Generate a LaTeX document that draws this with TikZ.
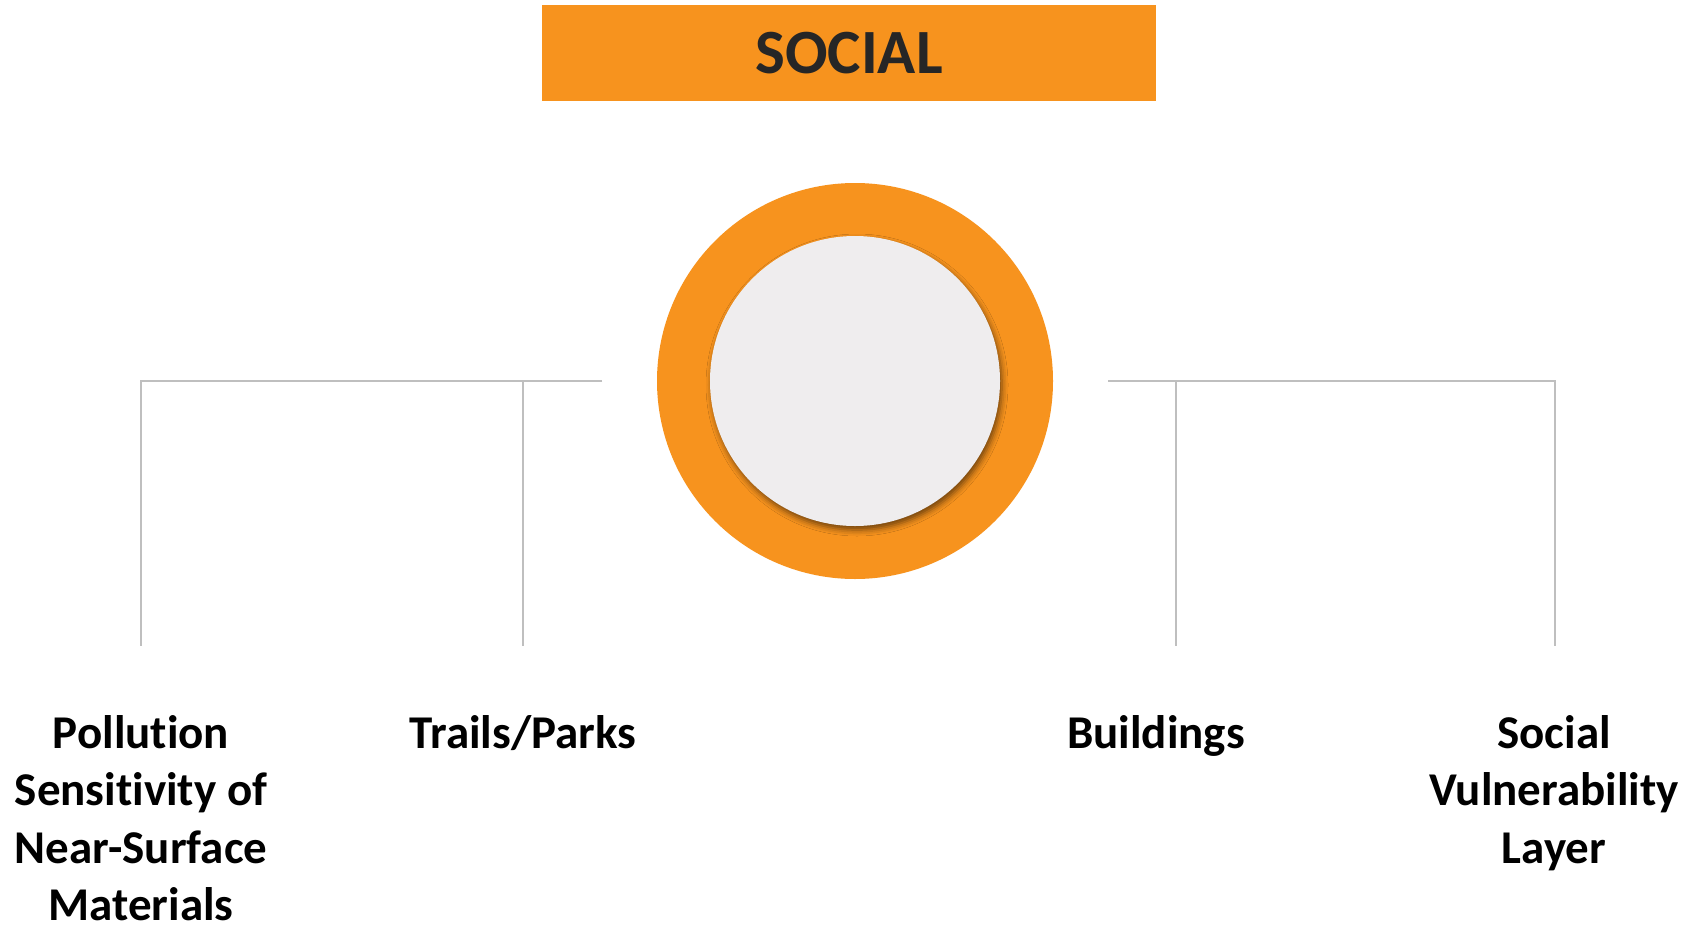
\documentclass[tikz,border=0pt]{standalone}
\usepackage{fontspec}
\setmainfont{Carlito}[Ligatures={NoCommon,NoContextual}]
\usetikzlibrary{shadows.blur}
\definecolor{socorange}{HTML}{F7931E}
\definecolor{socgrey}{HTML}{EFEDEE}
\definecolor{linegrey}{HTML}{BFBFBF}
\definecolor{titletext}{HTML}{262626}
\begin{document}
\begin{tikzpicture}[x=1pt,y=-1pt,
  leaf/.style={font=\fontsize{47}{57.5}\selectfont\bfseries, align=center, inner sep=0pt, anchor=base},
  branch/.style={draw=linegrey, line width=1.5pt}]
\useasboundingbox[fill=white] (0,0) rectangle (1689,926);
\node[fill=socorange, minimum width=614pt, minimum height=96pt, inner sep=0pt,
      font=\fontsize{63}{70}\selectfont\bfseries, text=titletext] (title) at (849,53) {SOCIAL};
\node[circle, fill=socorange, minimum size=396pt, inner sep=0pt] (outer) at (855,381) {};
\node[circle, fill=socgrey, minimum size=290pt, inner sep=0pt,
      blur shadow={shadow xshift=2pt, shadow yshift=-4pt, shadow blur radius=6pt, shadow opacity=55}] (inner) at (855,381) {};
% left branch
\coordinate (l0) at (602,381);
\coordinate (lA) at (141,381);
\coordinate (lB) at (523,381);
\coordinate (lAb) at (141,646);
\coordinate (lBb) at (523,646);
\draw[branch] (l0) -- (lA) -- (lAb);
\draw[branch] (lB) -- (lBb);
% right branch
\coordinate (r0) at (1108,381);
\coordinate (rB) at (1176,381);
\coordinate (rA) at (1555,381);
\coordinate (rBb) at (1176,646);
\coordinate (rAb) at (1555,646);
\draw[branch] (r0) -- (rA) -- (rAb);
\draw[branch] (rB) -- (rBb);
% labels (base anchor = baseline of last line)
\node[leaf] (pollution) at (141,920.5) {Pollution\\Sensitivity of\\Near-Surface\\Materials};
\node[leaf] (trails) at (523,748) {Trails/Parks};
\node[leaf] (buildings) at (1156,748) {Buildings};
\node[leaf] (social) at (1554,863) {Social\\Vulnerability\\Layer};
\end{tikzpicture}
\end{document}
